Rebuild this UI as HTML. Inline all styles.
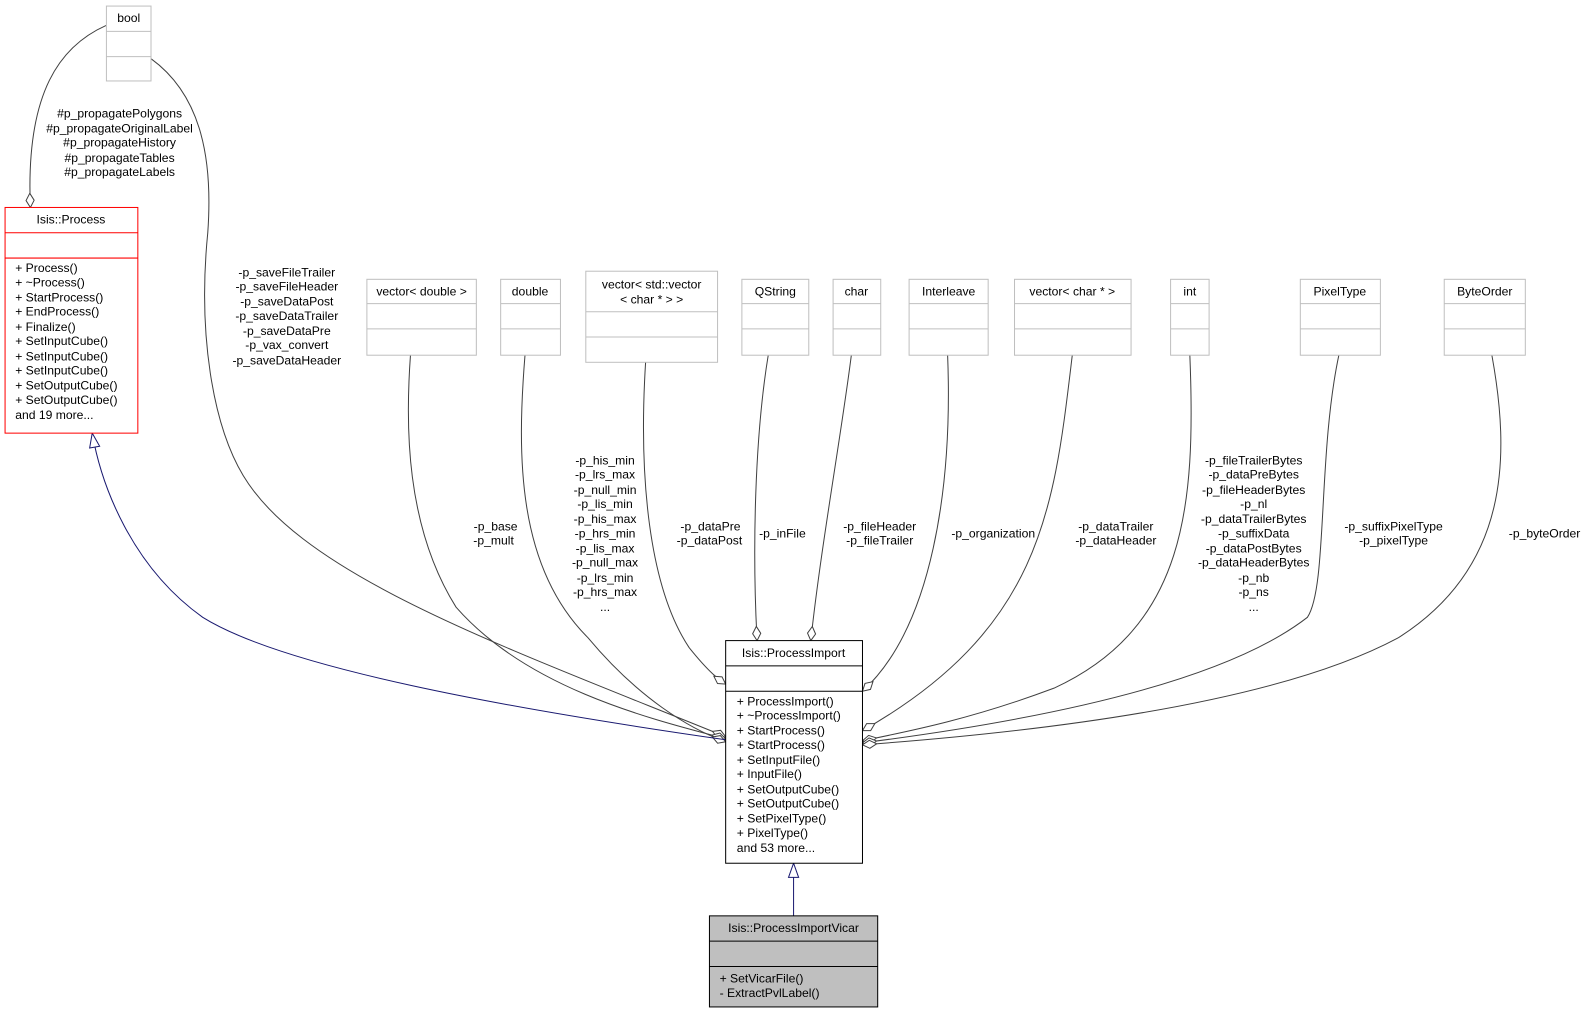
<!DOCTYPE html>
<html><head><meta charset="utf-8"><style>
html,body{margin:0;padding:0;background:#fff;}
svg{display:block;font-family:"Liberation Sans",sans-serif;font-size:12px;}
</style></head><body>
<svg width="1587" height="1013" viewBox="0 0 1587 1013" xmlns="http://www.w3.org/2000/svg">
<defs>
<marker id="dia" markerWidth="16" markerHeight="10" refX="15" refY="5" orient="auto" markerUnits="userSpaceOnUse">
<path d="M1,5 L8,1 L15,5 L8,9 Z" fill="#fff" stroke="#404040" stroke-width="1"/>
</marker>
<marker id="tri" markerWidth="16" markerHeight="12" refX="15" refY="6" orient="auto" markerUnits="userSpaceOnUse">
<path d="M1,1 L15,6 L1,11 Z" fill="#fff" stroke="#191970" stroke-width="1"/>
</marker>
</defs>
<g transform="scale(1.0135,1.012)">
<g fill="none" stroke="#404040" stroke-width="1">
<path d="M105,25 C60,45 25,90 30,205" marker-end="url(#dia)"/>
<path d="M149,58 C200,95 210,160 205,230 C195,330 210,420 240,470 C300,570 500,640 716,728" marker-end="url(#dia)"/>
<path d="M405,351 C400,420 400,520 450,600 C520,680 640,710 716,730" marker-end="url(#dia)"/>
<path d="M518,351 C510,450 510,560 580,630 C630,690 680,720 716,733" marker-end="url(#dia)"/>
<path d="M637,358 C630,470 640,580 680,640 C700,665 710,672 716,676" marker-end="url(#dia)"/>
<path d="M758,351 C745,430 742,540 747,633" marker-end="url(#dia)"/>
<path d="M840,351 C830,430 810,540 800,633" marker-end="url(#dia)"/>
<path d="M935,351 C940,480 920,620 851,683" marker-end="url(#dia)"/>
<path d="M1058,351 C1040,500 1030,620 851,722" marker-end="url(#dia)"/>
<path d="M1174,351 C1180,500 1170,620 1040,680 C960,710 900,722 851,732" marker-end="url(#dia)"/>
<path d="M1321,351 C1300,450 1310,580 1290,610 C1200,680 1000,715 851,734" marker-end="url(#dia)"/>
<path d="M1472,351 C1490,450 1490,560 1380,630 C1250,700 1000,725 851,736" marker-end="url(#dia)"/>
</g>
<g fill="none" stroke="#191970" stroke-width="1">
<path d="M716,731 C500,700 280,660 200,610 C130,560 100,480 91,428" marker-end="url(#tri)"/>
<path d="M783,905 L783,853" marker-end="url(#tri)"/>
</g>
<g stroke="#bfbfbf" fill="#fff">
<rect x="105" y="6" width="44" height="74"/>
<line x1="105" y1="31" x2="149" y2="31"/><line x1="105" y1="56" x2="149" y2="56"/>
<rect x="362" y="276" width="108" height="75"/><line x1="362" y1="300" x2="470" y2="300"/><line x1="362" y1="325" x2="470" y2="325"/>
<rect x="494" y="276" width="59" height="75"/><line x1="494" y1="300" x2="553" y2="300"/><line x1="494" y1="325" x2="553" y2="325"/>
<rect x="578" y="268" width="130" height="90"/><line x1="578" y1="308" x2="708" y2="308"/><line x1="578" y1="333" x2="708" y2="333"/>
<rect x="732" y="276" width="66" height="75"/><line x1="732" y1="300" x2="798" y2="300"/><line x1="732" y1="325" x2="798" y2="325"/>
<rect x="822" y="276" width="47" height="75"/><line x1="822" y1="300" x2="869" y2="300"/><line x1="822" y1="325" x2="869" y2="325"/>
<rect x="897" y="276" width="78" height="75"/><line x1="897" y1="300" x2="975" y2="300"/><line x1="897" y1="325" x2="975" y2="325"/>
<rect x="1001" y="276" width="115" height="75"/><line x1="1001" y1="300" x2="1116" y2="300"/><line x1="1001" y1="325" x2="1116" y2="325"/>
<rect x="1155" y="276" width="38" height="75"/><line x1="1155" y1="300" x2="1193" y2="300"/><line x1="1155" y1="325" x2="1193" y2="325"/>
<rect x="1283" y="276" width="79" height="75"/><line x1="1283" y1="300" x2="1362" y2="300"/><line x1="1283" y1="325" x2="1362" y2="325"/>
<rect x="1425" y="276" width="80" height="75"/><line x1="1425" y1="300" x2="1505" y2="300"/><line x1="1425" y1="325" x2="1505" y2="325"/>
</g>
<g stroke="#ff0000" fill="#fff">
<rect x="5" y="205" width="131" height="223"/>
<line x1="5" y1="230" x2="136" y2="230"/><line x1="5" y1="255" x2="136" y2="255"/>
</g>
<g stroke="#000" fill="#fff">
<rect x="716" y="633" width="135" height="220"/>
<line x1="716" y1="658" x2="851" y2="658"/><line x1="716" y1="683" x2="851" y2="683"/>
</g>
<g stroke="#000" fill="#bfbfbf">
<rect x="700" y="905" width="166" height="90"/>
<line x1="700" y1="930" x2="866" y2="930"/><line x1="700" y1="955" x2="866" y2="955"/>
</g>
<g fill="#000" text-anchor="middle">
<text x="127" y="22">bool</text>
<text x="416" y="292">vector&lt; double &gt;</text>
<text x="523" y="292">double</text>
<text x="643" y="285">vector&lt; std::vector</text>
<text x="643" y="300">&lt; char * &gt; &gt;</text>
<text x="765" y="292">QString</text>
<text x="845" y="292">char</text>
<text x="936" y="292">Interleave</text>
<text x="1058" y="292">vector&lt; char * &gt;</text>
<text x="1174" y="292">int</text>
<text x="1322" y="292">PixelType</text>
<text x="1465" y="292">ByteOrder</text>
<text x="70" y="221">Isis::Process</text>
<text x="783" y="649">Isis::ProcessImport</text>
<text x="783" y="921">Isis::ProcessImportVicar</text>
<text x="118" y="116">#p_propagatePolygons</text>
<text x="118" y="131">#p_propagateOriginalLabel</text>
<text x="118" y="145">#p_propagateHistory</text>
<text x="118" y="160">#p_propagateTables</text>
<text x="118" y="174">#p_propagateLabels</text>
<text x="283" y="273">-p_saveFileTrailer</text>
<text x="283" y="287">-p_saveFileHeader</text>
<text x="283" y="302">-p_saveDataPost</text>
<text x="283" y="316">-p_saveDataTrailer</text>
<text x="283" y="331">-p_saveDataPre</text>
<text x="283" y="345">-p_vax_convert</text>
<text x="283" y="360">-p_saveDataHeader</text>
<text x="489" y="524">-p_base</text>
<text x="487" y="538">-p_mult</text>
<text x="597" y="459">-p_his_min</text>
<text x="597" y="473">-p_lrs_max</text>
<text x="597" y="488">-p_null_min</text>
<text x="597" y="502">-p_lis_min</text>
<text x="597" y="517">-p_his_max</text>
<text x="597" y="531">-p_hrs_min</text>
<text x="597" y="546">-p_lis_max</text>
<text x="597" y="560">-p_null_max</text>
<text x="597" y="575">-p_lrs_min</text>
<text x="597" y="589">-p_hrs_max</text>
<text x="597" y="604">...</text>
<text x="701" y="524">-p_dataPre</text>
<text x="700" y="538">-p_dataPost</text>
<text x="772" y="531">-p_inFile</text>
<text x="868" y="524">-p_fileHeader</text>
<text x="868" y="538">-p_fileTrailer</text>
<text x="980" y="531">-p_organization</text>
<text x="1101" y="524">-p_dataTrailer</text>
<text x="1101" y="538">-p_dataHeader</text>
<text x="1237" y="459">-p_fileTrailerBytes</text>
<text x="1237" y="473">-p_dataPreBytes</text>
<text x="1237" y="488">-p_fileHeaderBytes</text>
<text x="1237" y="502">-p_nl</text>
<text x="1237" y="517">-p_dataTrailerBytes</text>
<text x="1237" y="531">-p_suffixData</text>
<text x="1237" y="546">-p_dataPostBytes</text>
<text x="1237" y="560">-p_dataHeaderBytes</text>
<text x="1237" y="575">-p_nb</text>
<text x="1237" y="589">-p_ns</text>
<text x="1237" y="604">...</text>
<text x="1375" y="524">-p_suffixPixelType</text>
<text x="1375" y="538">-p_pixelType</text>
<text x="1524" y="531">-p_byteOrder</text>
</g>
<g fill="#000">
<text x="15" y="269">+ Process()</text>
<text x="15" y="283">+ ~Process()</text>
<text x="15" y="298">+ StartProcess()</text>
<text x="15" y="312">+ EndProcess()</text>
<text x="15" y="327">+ Finalize()</text>
<text x="15" y="341">+ SetInputCube()</text>
<text x="15" y="356">+ SetInputCube()</text>
<text x="15" y="370">+ SetInputCube()</text>
<text x="15" y="385">+ SetOutputCube()</text>
<text x="15" y="399">+ SetOutputCube()</text>
<text x="15" y="414">and 19 more...</text>
<text x="727" y="697">+ ProcessImport()</text>
<text x="727" y="711">+ ~ProcessImport()</text>
<text x="727" y="726">+ StartProcess()</text>
<text x="727" y="740">+ StartProcess()</text>
<text x="727" y="755">+ SetInputFile()</text>
<text x="727" y="769">+ InputFile()</text>
<text x="727" y="784">+ SetOutputCube()</text>
<text x="727" y="798">+ SetOutputCube()</text>
<text x="727" y="813">+ SetPixelType()</text>
<text x="727" y="827">+ PixelType()</text>
<text x="727" y="842">and 53 more...</text>
<text x="710" y="971">+ SetVicarFile()</text>
<text x="710" y="985">- ExtractPvlLabel()</text>
</g>
</g>
</svg>
</body></html>
